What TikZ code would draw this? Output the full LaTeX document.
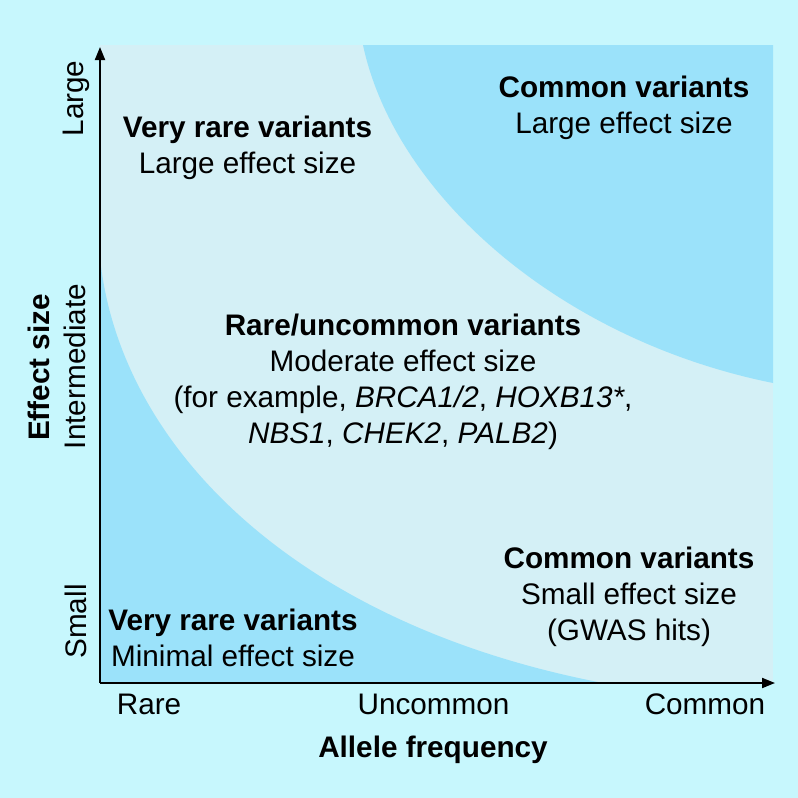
\documentclass[tikz,border=0pt]{standalone}
\usepackage{fontspec}
\setmainfont{Liberation Sans}
\usetikzlibrary{arrows.meta}
\definecolor{outerbg}{RGB}{199,247,253}
\definecolor{panel}{RGB}{212,240,246}
\definecolor{darkband}{RGB}{155,226,250}
\begin{document}
\begin{tikzpicture}[x=1pt,y=-1pt,
  txt/.style={font=\fontsize{29.7}{36}\selectfont, inner sep=0pt, anchor=base, text=black},
  bold/.style={txt, font=\fontsize{29.7}{36}\selectfont\bfseries},
  axis/.style={line width=2pt, -{Triangle[length=13pt,width=10pt]}}]
\useasboundingbox (0,0) rectangle (798,798);
\fill[outerbg] (0,0) rectangle (798,798);
\fill[panel] (100,45) rectangle (773,683);
\fill[darkband] (363,45) .. controls (395,195) and (560,340) .. (773,383) -- (773,45) -- cycle;
\fill[darkband] (100,258) .. controls (120,450) and (300,625) .. (603,683) -- (100,683) -- cycle;
\coordinate (O) at (100,683);
\coordinate (ytip) at (100,47);
\coordinate (xtip) at (775,683);
\draw[axis] (O) -- (ytip);
\draw[axis] (O) -- (xtip);
% region labels
\node[bold] (vrl1) at (247.5,137) {Very rare variants};
\node[txt] (vrl2) at (247.5,173) {Large effect size};
\node[bold] (cl1) at (624,97) {Common variants};
\node[txt] (cl2) at (624,133) {Large effect size};
\node[bold] (ru1) at (403,335) {Rare/uncommon variants};
\node[txt] (ru2) at (403,371) {Moderate effect size};
\node[txt] (ru3) at (403,407) {(for example, \textit{BRCA1/2}, \textit{HOXB13*},};
\node[txt] (ru4) at (403,443) {\textit{NBS1}, \textit{CHEK2}, \textit{PALB2})};
\node[bold] (cs1) at (629,568) {Common variants};
\node[txt] (cs2) at (629,604) {Small effect size};
\node[txt] (cs3) at (629,640) {(GWAS hits)};
\node[bold] (vm1) at (233,630) {Very rare variants};
\node[txt] (vm2) at (233,666) {Minimal effect size};
% axis ticks and titles
\node[txt] (tRare) at (149,714) {Rare};
\node[txt] (tUnc) at (433.5,714) {Uncommon};
\node[txt] (tCom) at (705,714) {Common};
\node[bold] (xlab) at (433,757) {Allele frequency};
\node[txt, rotate=90] (tLarge) at (83,98.5) {Large};
\node[txt, rotate=90] (tInt) at (85,366.5) {Intermediate};
\node[txt, rotate=90] (tSmall) at (86,621.5) {Small};
\node[bold, rotate=90] (ylab) at (49,367.5) {Effect size};
\end{tikzpicture}
\end{document}
